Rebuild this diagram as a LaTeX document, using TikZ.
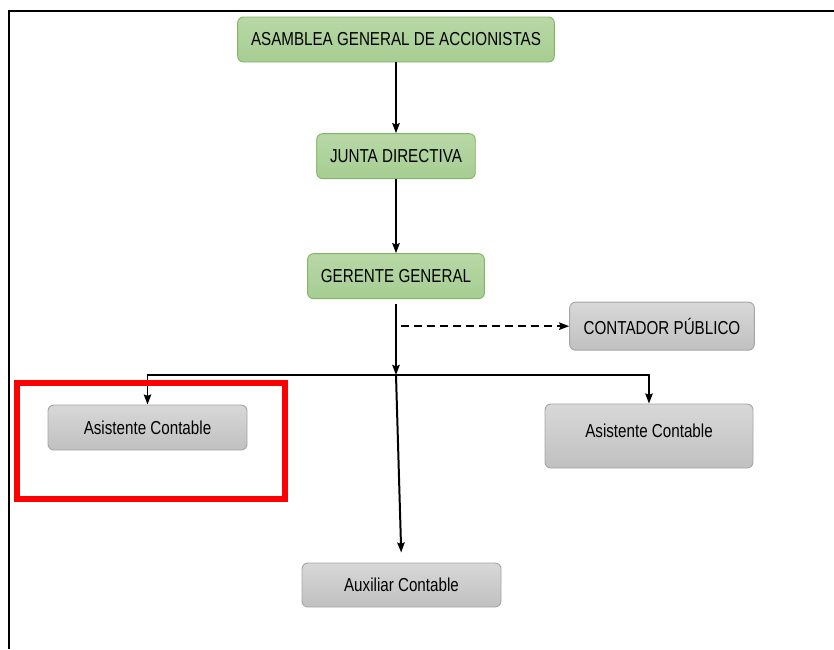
\documentclass[tikz,border=0pt]{standalone}
\usepackage{fontspec}
\setmainfont{Liberation Sans}[FakeStretch=0.81]
\usetikzlibrary{shapes.geometric, arrows, arrows.meta}
\definecolor{verdearriba}{RGB}{184,216,166}
\definecolor{verdeabajo}{RGB}{166,205,146}
\definecolor{verdeborde}{RGB}{128,184,98}
\definecolor{grisarriba}{RGB}{216,216,216}
\definecolor{grisabajo}{RGB}{192,192,192}
\definecolor{grisborde}{RGB}{165,165,165}
\tikzstyle{verde} = [rectangle, rounded corners=5pt, minimum height=1.35cm, inner xsep=0.4cm, text centered, draw=verdeborde, line width=0.8pt, top color=verdearriba, bottom color=verdeabajo, font=\fontsize{16}{19}\selectfont]
\tikzstyle{gris} = [rectangle, rounded corners=5pt, minimum width=5.97cm, minimum height=1.35cm, text centered, draw=grisborde, line width=0.8pt, top color=grisarriba, bottom color=grisabajo, font=\fontsize{16}{19}\selectfont]
\tikzstyle{flecha} = [line width=1.7pt,->,>={Stealth[length=0.3cm, width=0.22cm, inset=0.04cm]}]
\tikzstyle{flechapunteada} = [flecha, dash pattern=on 0.24cm off 0.15cm]
\tikzstyle{resalte} = [line width=5pt, draw=red]
\tikzstyle{marco} = [line width=2.2pt, draw=black]

\begin{document}
\begin{tikzpicture}[node distance=3.5cm]
        \useasboundingbox (0,0) rectangle (25.02,-19.47);
        % Marco
        \draw [marco] (0.27,-19.47) |- (25.02,-0.33);

        % Nodes
        \node (asamblea) [verde] at (11.88,-1.185) {ASAMBLEA GENERAL DE ACCIONISTAS};
        \node (junta) [verde, below of=asamblea] {JUNTA DIRECTIVA};
        \node (gerente) [verde, below of=junta, yshift=-0.1cm] {GERENTE GENERAL};
        \node (contador) [gris, right of=gerente, xshift=4.48cm, yshift=-1.5cm, minimum width=0cm, inner xsep=0.42cm, minimum height=1.44cm] {CONTADOR PÚBLICO};
        \node (barra) [coordinate, below of=gerente, yshift=0.535cm] {};
        \node (asisizq) [gris, below of=gerente, xshift=-7.455cm, yshift=-1.04cm] {Asistente Contable};
        \node (asisder) [gris, below of=gerente, xshift=7.59cm, yshift=-1.295cm, minimum width=6.24cm, minimum height=1.92cm, text height=0.42cm, text depth=0.36cm] {Asistente Contable};
        \node (auxiliar) [gris, below of=gerente, xshift=0.165cm, yshift=-5.765cm, minimum height=1.32cm] {Auxiliar Contable};
        \node (guion) [coordinate] at (barra |- contador.west) {};

        % Arrows
        \draw [flecha] (asamblea) -- (junta);
        \draw [flecha] (junta) -- (gerente);
        \draw [flecha] ([yshift=-0.15cm]gerente.south) -- (barra);
        \draw [flechapunteada] ([xshift=0.15cm]guion) -- (contador);
        \draw [flecha] (barra) -| (asisizq.north);
        \draw [flecha] (barra) -| (asisder.north);
        \draw [flecha, shorten >=0.3cm] (barra) -- (auxiliar.north);

        % Resalte
        \draw [resalte] (0.51,-11.49) rectangle (8.55,-14.97);
    \end{tikzpicture}
\end{document}
